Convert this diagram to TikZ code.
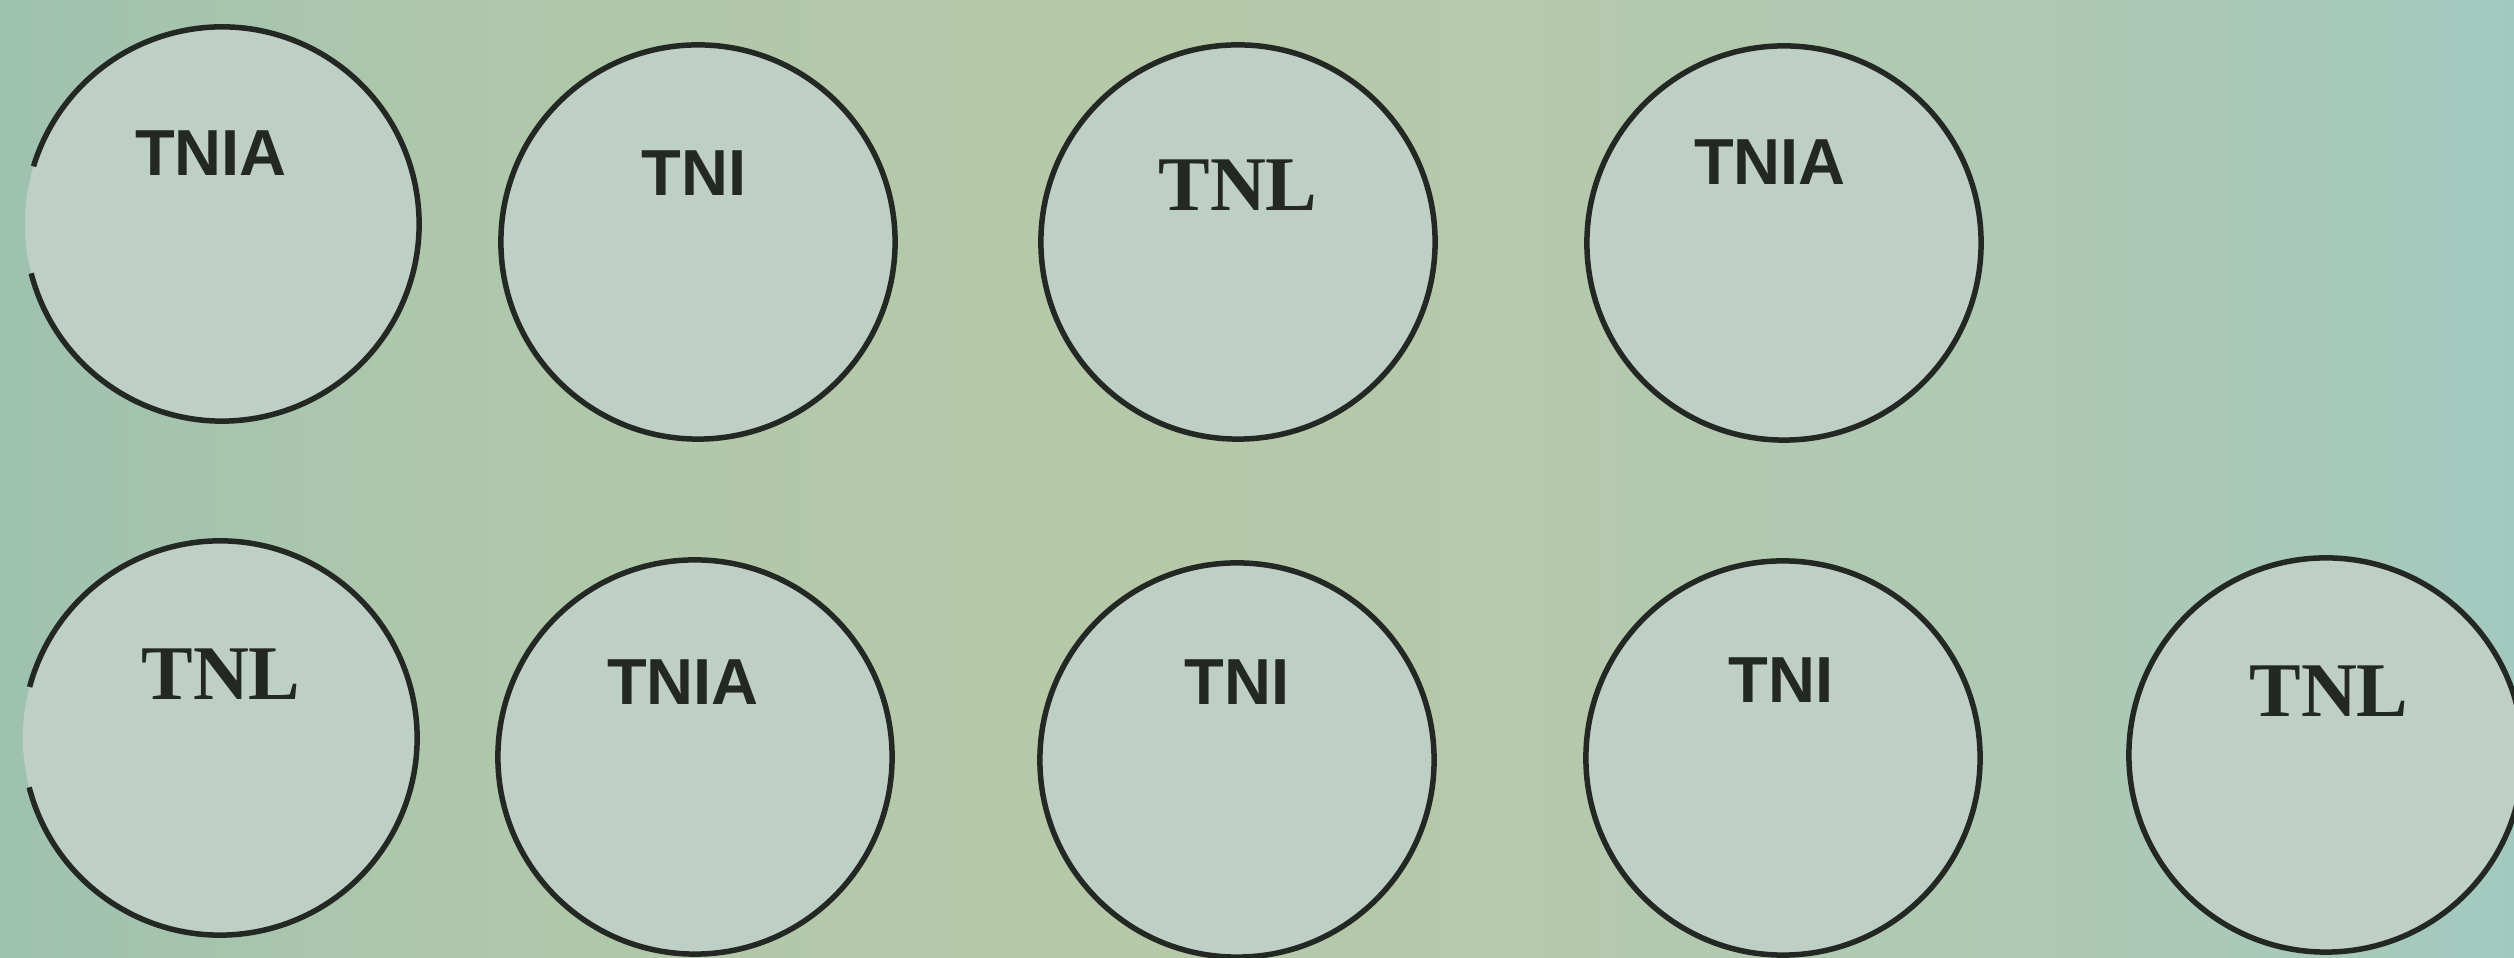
\documentclass[tikz,border=0pt]{standalone}
\usepackage{fontspec}
\setmainfont{Liberation Serif}
\newfontfamily\labelsans{Liberation Sans}
\definecolor{disc}{RGB}{190,207,197}
\definecolor{ink}{RGB}{36,40,36}
% paper tone running from teal on the left through a pale yellow-green to teal on the right
\pgfdeclarehorizontalshading{paper}{100bp}{
  rgb(0bp)=(0.62,0.76,0.69);
  rgb(25bp)=(0.62,0.76,0.69);
  rgb(33bp)=(0.68,0.78,0.67);
  rgb(45bp)=(0.71,0.79,0.66);
  rgb(55bp)=(0.71,0.79,0.67);
  rgb(66bp)=(0.68,0.79,0.71);
  rgb(75bp)=(0.64,0.79,0.75);
  rgb(100bp)=(0.64,0.79,0.75)}
\tikzset{
  disk/.style={circle, minimum size=3.94cm, inner sep=0pt, fill=disc, draw=ink, line width=0.055cm},
  openDisk/.style={circle, minimum size=3.94cm, inner sep=0pt, fill=disc},
  sansLabel/.style={inner sep=0pt, text=ink, font=\labelsans\bfseries\fontsize{18.5}{20}\selectfont},
  serifLabel/.style={inner sep=0pt, text=ink, font=\rmfamily\bfseries\fontsize{22}{24}\selectfont},
  rim/.style={draw=ink, line width=0.055cm}
}
\begin{document}
\begin{tikzpicture}[x=0.01cm, y=0.01cm]
  \useasboundingbox (0,0) rectangle (2514,958);
  \shade[shading=paper] (0,0) rectangle (2514,958);

  % upper row
  \node[openDisk] (a1) at (222,734) {};
  \node[disk] (a2) at (698,716) {};
  \node[disk] (a3) at (1238,716) {};
  \node[disk] (a4) at (1784,715) {};
  % lower row
  \node[openDisk] (b1) at (220,220) {};
  \node[disk] (b2) at (695,201) {};
  \node[disk] (b3) at (1237,198) {};
  \node[disk] (b4) at (1783,200) {};
  \node[disk] (b5) at (2326,203) {};

  % the two left-hand discs have a break in their outline on the left
  \draw[rim] ([shift={(194.5:1.97cm)}]a1.center) arc[start angle=194.5, end angle=523, radius=1.97cm];
  \draw[rim] ([shift={(194.5:1.97cm)}]b1.center) arc[start angle=194.5, end angle=525, radius=1.97cm];

  % labels
  \node[sansLabel]  (ta1) at (211,805)  {TNIA};
  \node[sansLabel]  (ta2) at (694,785)  {TNI};
  \node[serifLabel] (ta3) at (1238,773) {TNL};
  \node[sansLabel]  (ta4) at (1770,796) {TNIA};
  \node[serifLabel] (tb1) at (221,284)  {TNL};
  \node[sansLabel]  (tb2) at (683,276)  {TNIA};
  \node[sansLabel]  (tb3) at (1237,276) {TNI};
  \node[sansLabel]  (tb4) at (1781,278) {TNI};
  \node[serifLabel] (tb5) at (2329,267) {TNL};
\end{tikzpicture}
\end{document}
